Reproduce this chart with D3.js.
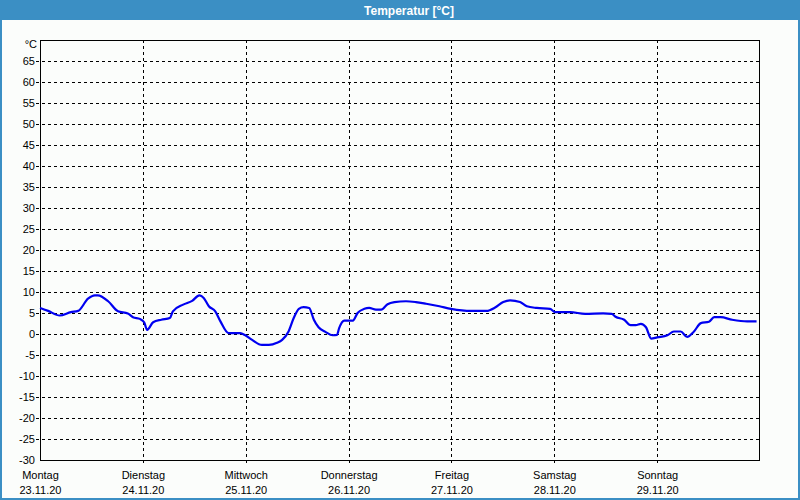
<!DOCTYPE html>
<html><head><meta charset="utf-8">
<script src="https://cdn.jsdelivr.net/npm/d3@7"></script>
<style>
html,body{margin:0;padding:0;background:#fbfdfb;}
svg{display:block;}
</style></head>
<body>
<svg id="chart" width="800" height="500"></svg>
<script>
const title = "Temperatur [°C]";
const unitLabel = "°C";
const dayNames = ["Montag","Dienstag","Mittwoch","Donnerstag","Freitag","Samstag","Sonntag"];
const dayDates = ["23.11.20","24.11.20","25.11.20","26.11.20","27.11.20","28.11.20","29.11.20"];
const yTicks = [-30,-25,-20,-15,-10,-5,0,5,10,15,20,25,30,35,40,45,50,55,60,65];
// hours since Monday 00:00
const hours = [0,1.9,4.6,7.2,8.9,11.2,12.8,13.5,15.9,18.2,20.5,21.7,23.3,24.3,25.0,26.4,28.3,30.3,31.0,33.4,
  35.5,37.2,38.2,39.4,40.9,42.1,44.0,46.7,47.9,49.5,51.8,53.4,55.3,56.5,58.0,59.2,60.4,61.5,62.8,63.9,65.0,66.6,
  68.3,69.3,69.8,71.0,73.0,74.1,75.7,76.8,78.4,79.6,81.1,82.7,85.4,87.7,90.1,93.2,95.9,100.6,
  104.2,106.2,108.1,109.7,112.0,113.6,115.9,119.0,120.2,123.7,127.2,131.4,133.4,134.3,
  136.3,137.8,139.0,140.2,141.4,142.6,144.0,146.4,147.9,149.5,151.0,152.6,154.2,156.1,157.3,158.8,161.5,165.0,167.2];
const temps = [6.2,5.5,4.4,5.2,5.5,8.4,9.2,9.2,7.8,5.4,4.9,4.0,3.6,2.8,1.0,2.8,3.4,3.8,5.4,7.0,
  7.9,9.2,8.6,6.6,5.4,3.0,0.2,0.2,-0.3,-1.4,-2.6,-2.6,-2.1,-1.4,0.6,3.8,6.0,6.4,6.2,3.4,1.6,0.5,
  -0.3,-0.2,1.4,3.2,3.2,5.0,6.0,6.2,5.8,5.8,7.1,7.6,7.8,7.6,7.2,6.6,6.0,5.5,
  5.5,6.3,7.6,8.0,7.6,6.6,6.2,6.0,5.2,5.2,4.8,4.9,4.8,4.1,
  3.4,2.1,2.1,2.4,1.6,-1.1,-0.8,-0.3,0.6,0.6,-0.7,0.6,2.6,2.9,4.0,4.0,3.4,3.0,3.0];

const svg = d3.select("#chart");
const W = 800, H = 500;
const L = 40, R = 760, T = 40, B = 460;

// frame
svg.append("rect").attr("x",0).attr("y",0).attr("width",W).attr("height",H).attr("fill","#fbfdfb");
svg.append("rect").attr("x",0).attr("y",0).attr("width",W).attr("height",20).attr("fill","#3b8fc4");
svg.append("rect").attr("x",1).attr("y",1).attr("width",W-2).attr("height",H-2)
  .attr("fill","none").attr("stroke","#3b8fc4").attr("stroke-width",2);
svg.append("text").attr("x",409).attr("y",14.5).attr("text-anchor","middle")
  .attr("font-family","Liberation Sans, Arial, sans-serif").attr("font-weight","bold")
  .attr("font-size",12).attr("fill","#ffffff").text(title);

const x = d3.scaleLinear().domain([0,168]).range([L,R]);
const y = d3.scaleLinear().domain([-30,70]).range([B,T]);

const font = "Liberation Sans, Arial, sans-serif";

// horizontal grid (dashed) with left ticks
const g = svg.append("g").attr("shape-rendering","crispEdges");
yTicks.filter(v=>v>-30).forEach(v=>{
  g.append("line").attr("x1",L-4).attr("x2",R).attr("y1",Math.round(y(v))+0.5).attr("y2",Math.round(y(v))+0.5)
    .attr("stroke","#000").attr("stroke-dasharray","3,3");
});
// vertical grid (dashed), with ticks below axis
d3.range(1,7).forEach(d=>{
  const xx = Math.round(x(d*24))+0.5;
  g.append("line").attr("x1",xx).attr("x2",xx).attr("y1",T).attr("y2",B+4)
    .attr("stroke","#000").attr("stroke-dasharray","3,3");
});
// frame box
g.append("rect").attr("x",L+0.5).attr("y",T+0.5).attr("width",R-L-1).attr("height",B-T)
  .attr("fill","none").attr("stroke","#000");

// y labels
yTicks.forEach(v=>{
  svg.append("text").attr("x",35).attr("y",y(v)+4).attr("text-anchor","end")
    .attr("font-family",font).attr("font-size",11).attr("fill","#000").text(v);
});
svg.append("text").attr("x",37).attr("y",y(70)+8).attr("text-anchor","end")
  .attr("font-family",font).attr("font-size",11).attr("fill","#000").text(unitLabel);

// x labels
dayNames.forEach((n,i)=>{
  const xx = x(i*24)+0.5;
  svg.append("text").attr("x",xx).attr("y",479).attr("text-anchor","middle")
    .attr("font-family",font).attr("font-size",11).attr("fill","#000").text(n);
  svg.append("text").attr("x",xx).attr("y",494).attr("text-anchor","middle")
    .attr("font-family",font).attr("font-size",11).attr("fill","#000").text(dayDates[i]);
});

// data line
const data = hours.map((h,i)=>({h, t: temps[i]}));
const line = d3.line().x(d=>x(d.h)).y(d=>y(d.t)).curve(d3.curveMonotoneX);
svg.append("path").datum(data).attr("d",line).attr("fill","none")
  .attr("stroke","#0000f0").attr("stroke-width",2.2).attr("stroke-linejoin","round");
</script>
</body></html>
